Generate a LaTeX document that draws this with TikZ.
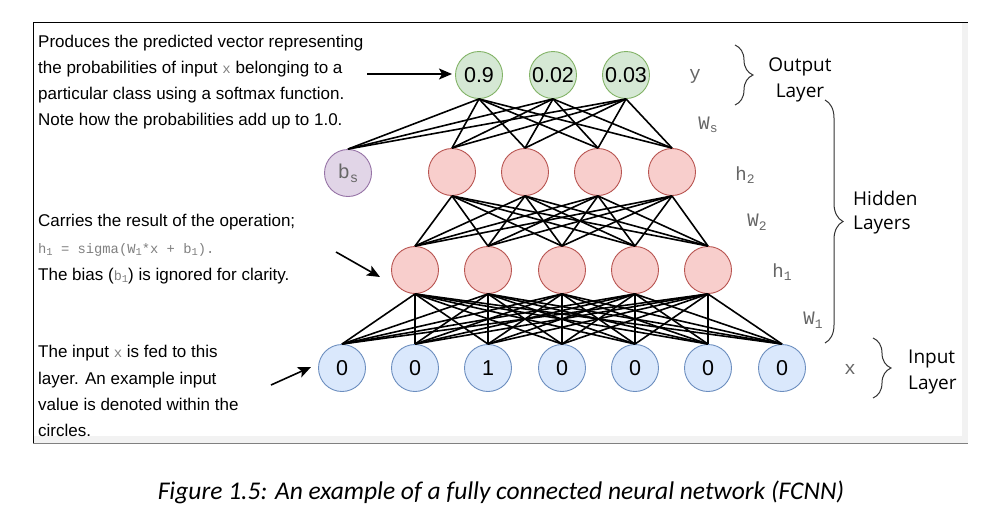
\documentclass[tikz,border=0pt]{standalone}
\usepackage{fontspec}
\setmainfont{Liberation Sans}
\newfontfamily\monof{Liberation Mono}
\newfontfamily\capf{Carlito}
\newfontfamily\labf{Open Sans}
\usetikzlibrary{arrows.meta,decorations.pathreplacing}
\definecolor{gfill}{HTML}{D5E8D4}
\definecolor{gdraw}{HTML}{82B366}
\definecolor{rfill}{HTML}{F8CECC}
\definecolor{rdraw}{HTML}{B85450}
\definecolor{bfill}{HTML}{DAE8FC}
\definecolor{bdraw}{HTML}{6C8EBF}
\definecolor{pfill}{HTML}{E1D5E7}
\definecolor{pdraw}{HTML}{9673A6}
\definecolor{labgray}{HTML}{666666}
\definecolor{fmgray}{HTML}{808080}
\definecolor{stripgray}{HTML}{F2F2F2}
\definecolor{bracegray}{HTML}{333333}
\newcommand\subx[2]{\raisebox{-0.35ex}{\fontsize{#1}{#1}\selectfont #2}}
\tikzset{
  neuron/.style={circle, draw, line width=0.9pt, minimum size=47pt, inner sep=0pt, font=\fontsize{21.5}{24}\selectfont},
  outn/.style={neuron, fill=gfill, draw=gdraw},
  hidn/.style={neuron, fill=rfill, draw=rdraw},
  inn/.style={neuron, fill=bfill, draw=bdraw},
  biasn/.style={neuron, fill=pfill, draw=pdraw, text=labgray, font=\monof\fontsize{20}{24}\selectfont},
  edge/.style={line width=1.6pt, black},
  ann/.style={line width=1.6pt, -{Stealth[length=13pt,width=11pt,inset=3pt]}},
  lbl/.style={font=\monof\fontsize{19}{20}\selectfont, text=labgray, inner sep=0pt},
  txt/.style={anchor=base west, inner sep=0pt, font=\fontsize{17}{20}\selectfont},
  big/.style={anchor=base, inner sep=0pt, font=\labf\fontsize{19}{22}\selectfont},
  bigl/.style={anchor=base west, inner sep=0pt, font=\labf\fontsize{19}{22}\selectfont},
  brc/.style={decorate, decoration={brace, amplitude=18pt}, line width=1pt, draw=bracegray},
}
\begin{document}
\begin{tikzpicture}[x=1pt,y=-1pt]
\useasboundingbox (0,0) rectangle (1007,520);
% frame
\fill[stripgray] (33,22) rectangle (968,443);
\fill[white] (34,23) rectangle (962,436);
\draw[black, line width=1pt] (33,443) -- (33,22) -- (968,22);
\draw[gray, line width=1pt] (33,443) -- (968,443);

% output layer
\node[outn] (o1) at (479,75) {0.9};
\node[outn] (o2) at (553,75) {0.02};
\node[outn] (o3) at (626,75) {0.03};
% hidden 2
\node[biasn] (bs) at (348,173) {b\subx{14}{s}};
\node[hidn] (a1) at (452,172) {};
\node[hidn] (a2) at (525,172) {};
\node[hidn] (a3) at (598,172) {};
\node[hidn] (a4) at (672,172) {};
% hidden 1
\node[hidn] (h1) at (415,270) {};
\node[hidn] (h2) at (488,270) {};
\node[hidn] (h3) at (562,270) {};
\node[hidn] (h4) at (635,270) {};
\node[hidn] (h5) at (708,270) {};
% input
\node[inn] (i1) at (342,368) {0};
\node[inn] (i2) at (415,368) {0};
\node[inn] (i3) at (488,368) {1};
\node[inn] (i4) at (562,368) {0};
\node[inn] (i5) at (635,368) {0};
\node[inn] (i6) at (708,368) {0};
\node[inn] (i7) at (782,368) {0};

% edges
\foreach \s in {bs,a1,a2,a3,a4}
  \foreach \t in {o1,o2,o3}
    \draw[edge] (\s.north) -- (\t.south);
\foreach \s in {h1,h2,h3,h4,h5}
  \foreach \t in {a1,a2,a3,a4}
    \draw[edge] (\s.north) -- (\t.south);
\foreach \s in {i1,i2,i3,i4,i5,i6,i7}
  \foreach \t in {h1,h2,h3,h4,h5}
    \draw[edge] (\s.north) -- (\t.south);

% right mono labels
\node[lbl] (ly) at (695,76) {y};
\node[lbl] (lws) at (708,125) {W\subx{13}{s}};
\node[lbl] (lh2) at (745,175) {h\subx{13}{2}};
\node[lbl] (lw2) at (757,222) {W\subx{13}{2}};
\node[lbl] (lh1) at (782,272) {h\subx{13}{1}};
\node[lbl] (lw1) at (813,320) {W\subx{13}{1}};
\node[lbl] (lx) at (850,369) {x};

% braces
\coordinate (ob1) at (735,45);
\coordinate (ob2) at (735,105);
\draw[brc] (ob1) -- (ob2);
\coordinate (hb1) at (825,100);
\coordinate (hb2) at (825,343);
\draw[brc] (hb1) -- (hb2);
\coordinate (ib1) at (873,338);
\coordinate (ib2) at (873,398);
\draw[brc] (ib1) -- (ib2);

\node[big] (outt1) at (800,71) {Output};
\node[big] (outt2) at (800,97) {Layer};
\node[bigl] (hidt1) at (853,205) {Hidden};
\node[bigl] (hidt2) at (853,229) {Layers};
\node[bigl] (inpt1) at (908,363) {Input};
\node[bigl] (inpt2) at (908,389) {Layer};

% left texts
\node[txt] (t1) at (38,47) {Produces the predicted vector representing};
\node[txt] (t2) at (38,73) {the probabilities of input {\monof\fontsize{14}{14}\selectfont\color{fmgray}x} belonging to a};
\node[txt] (t3) at (38,99) {particular class using a softmax function.};
\node[txt] (t4) at (38,125) {Note how the probabilities add up to 1.0.};

\node[txt] (m1) at (38,226) {Carries the result of the operation;};
\node[txt, font=\monof\fontsize{13.8}{14}\selectfont, text=fmgray] (m2) at (38,253) {h\subx{10.5}{1} = sigma(W\subx{10.5}{1}*x + b\subx{10.5}{1}).};
\node[txt] (m3) at (38,280) {The bias ({\monof\fontsize{13.5}{14}\selectfont\color{fmgray}b\subx{10.5}{1}}) is ignored for clarity.};

\node[txt] (b1) at (38,357) {The input {\monof\fontsize{14}{14}\selectfont\color{fmgray}x} is fed to this};
\node[txt] (b2) at (38,384) {layer. An example input};
\node[txt] (b3) at (38,410) {value is denoted within the};
\node[txt] (b4) at (38,436) {circles.};

% annotation arrows
\coordinate (ar1s) at (367,74);
\coordinate (ar1e) at (452,74);
\draw[ann] (ar1s) -- (ar1e);
\coordinate (ar2s) at (336,252);
\coordinate (ar2e) at (380,277);
\draw[ann] (ar2s) -- (ar2e);
\coordinate (ar3s) at (271,385);
\coordinate (ar3e) at (311,367);
\draw[ann] (ar3s) -- (ar3e);

% caption
\node[anchor=base, inner sep=0pt, font=\capf\itshape\fontsize{25.5}{28}\selectfont] (cap) at (501,499) {Figure 1.5: An example of a fully connected neural network (FCNN)};
\end{tikzpicture}
\end{document}
